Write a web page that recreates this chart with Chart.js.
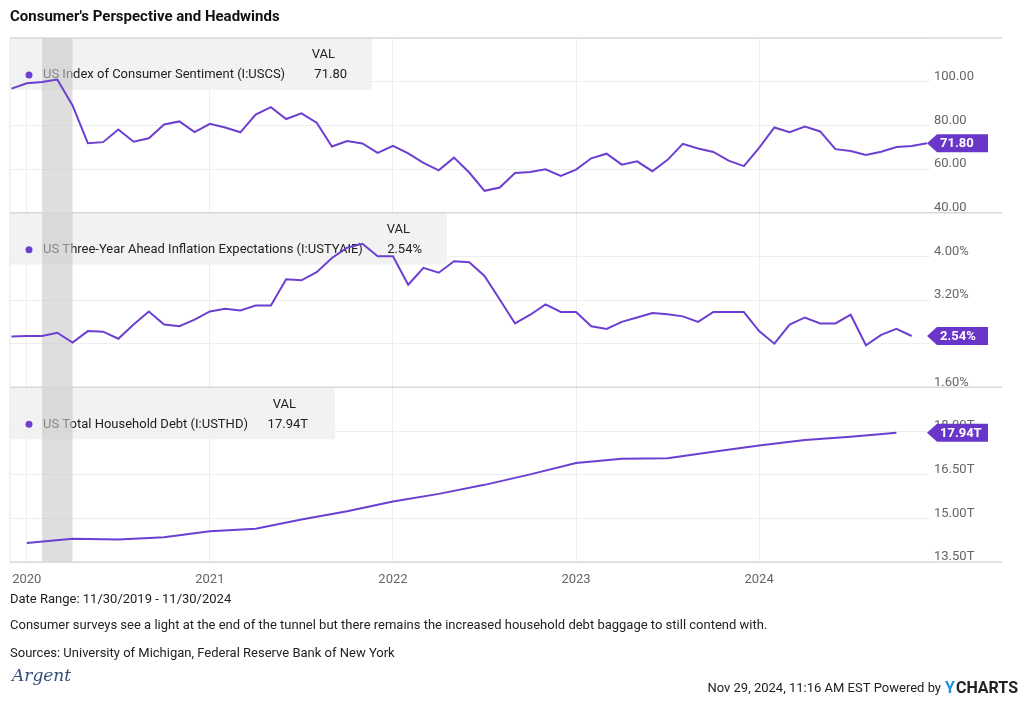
<!DOCTYPE html>
<html><head><meta charset="utf-8">
<script src="https://cdn.jsdelivr.net/npm/chart.js@4/dist/chart.umd.min.js"></script>
<style>html,body{margin:0;padding:0;background:#fff}#w{width:1024px;height:705px}</style>
</head><body><div id="w"><canvas id="c"></canvas></div>
<script>
// Month-end positions: index 0 = Dec 2019 end (~Jan 1 2020), -1 = Nov 2019 end
const yearTicks = [0, 12, 24, 36, 48];
const yearLabels = ['2020', '2021', '2022', '2023', '2024'];
// US Index of Consumer Sentiment, Nov 2019 - Nov 2024 (monthly)
const sentiment = [96.8,99.3,99.8,101.0,89.1,71.8,72.3,78.1,72.5,74.1,80.4,81.8,76.9,80.7,
 79.0,76.8,84.9,88.3,82.9,85.5,81.2,70.3,72.8,71.7,67.4,70.6,
 67.2,62.8,59.4,65.2,58.4,50.0,51.5,58.2,58.6,59.9,56.8,59.7,
 64.9,67.0,62.0,63.5,59.0,64.2,71.5,69.4,67.8,63.8,61.3,69.7,
 79.0,76.9,79.4,77.2,69.1,68.2,66.4,67.9,70.1,70.5,71.8];
// US Three-Year Ahead Inflation Expectations, Nov 2019 - Oct 2024 (monthly, %)
const inflation = [2.53,2.54,2.54,2.60,2.42,2.63,2.62,2.49,2.75,2.99,2.75,2.72,2.84,2.99,
 3.04,3.01,3.10,3.10,3.58,3.56,3.71,3.97,4.16,4.23,4.00,4.00,
 3.48,3.79,3.70,3.91,3.89,3.64,3.21,2.77,2.93,3.12,2.98,2.98,
 2.72,2.67,2.80,2.88,2.96,2.94,2.90,2.80,2.98,2.98,2.98,2.63,
 2.40,2.75,2.88,2.77,2.77,2.93,2.37,2.56,2.67,2.54];
// US Total Household Debt, Q4 2019 - Q3 2024 (quarterly, trillions)
const debt = [14.15,14.30,14.27,14.35,14.56,14.64,14.96,15.24,15.58,15.84,16.15,16.51,
 16.90,17.05,17.06,17.29,17.50,17.69,17.80,17.94];
const recession = [1, 3];

const monthly = (arr) => arr.map((v, i) => ({x: i - 1, y: v}));
const quarterly = (arr) => arr.map((v, i) => ({x: i * 3, y: v}));

const PURPLE = '#6c3fd1';
const FONT = 'Roboto, "Liberation Sans", sans-serif';

const legends = [
  {axis:'y1', name:'US Index of Consumer Sentiment (I:USCS)', val:'71.80', right:372, valRight:347},
  {axis:'y2', name:'US Three-Year Ahead Inflation Expectations (I:USTYAIE)', val:'2.54%', right:447, valRight:422},
  {axis:'y3', name:'US Total Household Debt (I:USTHD)', val:'17.94T', right:335, valRight:308}
];
const tags = [
  {ds:0, text:'71.80'}, {ds:1, text:'2.54%'}, {ds:2, text:'17.94T'}
];

const plugin = {
  id:'deco',
  beforeDatasetsDraw(chart){
    const ctx = chart.ctx, a = chart.chartArea, xs = chart.scales.x;
    ctx.save();
    legends.forEach(l=>{
      const s = chart.scales[l.axis];
      ctx.fillStyle = 'rgba(240,240,240,0.85)';
      ctx.fillRect(a.left, s.top, l.right - a.left, 52);
      ctx.fillStyle = '#222';
      ctx.font = '13px ' + FONT;
      ctx.textBaseline = 'middle';
      ctx.textAlign = 'right';
      ctx.fillText('VAL', l.valRight - 12, s.top + 17);
      ctx.fillText(l.val, l.valRight, s.top + 37);
      ctx.textAlign = 'left';
      ctx.fillText(l.name, 43, s.top + 37);
      ctx.fillStyle = PURPLE;
      ctx.beginPath(); ctx.arc(29, s.top + 37, 3.5, 0, Math.PI*2); ctx.fill();
    });
    const x0 = xs.getPixelForValue(recession[0]), x1 = xs.getPixelForValue(recession[1]);
    ctx.fillStyle = 'rgba(200,200,200,0.6)';
    ctx.fillRect(x0, a.top, x1 - x0, a.bottom - a.top);
    ctx.restore();
  },
  afterDraw(chart){
    const ctx = chart.ctx, a = chart.chartArea;
    ctx.save();
    ctx.strokeStyle = '#d8d8d8'; ctx.lineWidth = 1.5;
    ['y1','y2','y3'].forEach(id=>{
      const s = chart.scales[id];
      ctx.beginPath(); ctx.moveTo(a.left, s.top); ctx.lineTo(1002, s.top); ctx.stroke();
    });
    ctx.beginPath(); ctx.moveTo(a.left, a.bottom); ctx.lineTo(1002, a.bottom); ctx.stroke();
    ctx.strokeStyle = '#e6e6e6'; ctx.lineWidth = 1;
    ctx.beginPath(); ctx.moveTo(a.left, a.top); ctx.lineTo(a.left, a.bottom); ctx.stroke();
    tags.forEach(t=>{
      const meta = chart.getDatasetMeta(t.ds);
      const p = meta.data[meta.data.length-1];
      const y = p.y, xl = a.right + 1;
      ctx.fillStyle = '#6a35c9';
      ctx.beginPath();
      ctx.moveTo(xl - 4, y); ctx.lineTo(xl + 6, y - 9); ctx.lineTo(xl + 57, y - 9);
      ctx.lineTo(xl + 57, y + 9); ctx.lineTo(xl + 6, y + 9); ctx.closePath(); ctx.fill();
      ctx.fillStyle = '#fff'; ctx.font = 'bold 13px ' + FONT;
      ctx.textAlign = 'left'; ctx.textBaseline = 'middle';
      ctx.fillText(t.text, xl + 9, y + 1);
    });
    ctx.fillStyle = '#111'; ctx.textAlign = 'left'; ctx.textBaseline = 'middle';
    ctx.font = 'bold 15px ' + FONT;
    ctx.fillText("Consumer's Perspective and Headwinds", 10, 17);
    ctx.font = '13px ' + FONT; ctx.fillStyle = '#222';
    ctx.fillText('Date Range: 11/30/2019 - 11/30/2024', 10, 600);
    ctx.fillText('Consumer surveys see a light at the end of the tunnel but there remains the increased household debt baggage to still contend with.', 10, 626);
    ctx.fillText('Sources: University of Michigan, Federal Reserve Bank of New York', 10, 654);
    ctx.fillStyle = '#334f7a'; ctx.font = 'italic 17px "DejaVu Serif", serif';
    ctx.fillText('Argent', 12, 677);
    ctx.textAlign = 'right';
    ctx.font = 'bold 16px ' + FONT;
    const ych = 'CHARTS'; const wC = ctx.measureText(ych).width;
    ctx.fillStyle = '#222'; ctx.fillText(ych, 1018, 689);
    ctx.fillStyle = '#1e90e0'; ctx.fillText('Y', 1018 - wC - 1, 689);
    const wY = ctx.measureText('Y').width;
    ctx.font = '13px ' + FONT; ctx.fillStyle = '#222';
    ctx.fillText('Nov 29, 2024, 11:16 AM EST Powered by', 1018 - wC - wY - 5, 689);
    ctx.restore();
  }
};

const yAxis = (min, max, step, hideAbove, fmt) => ({
  type:'linear', position:'right', stack:'panels', stackWeight:1, min, max,
  border:{display:false},
  grid:{color:'#eeeeee', drawTicks:false},
  ticks:{stepSize:step, color:'#666', padding:4, labelOffset:-5, font:{family:FONT, size:13},
    callback:(v)=> v > hideAbove ? '' : fmt(v)},
  afterFit(s){ s.width = 94; }
});

new Chart(document.getElementById('c'), {
  type:'line',
  data:{datasets:[
    {data:monthly(sentiment), yAxisID:'y1'},
    {data:monthly(inflation), yAxisID:'y2'},
    {data:quarterly(debt), yAxisID:'y3'}
  ].map(d=>Object.assign(d,{borderColor:PURPLE, borderWidth:2, pointRadius:0, tension:0, fill:false}))},
  plugins:[plugin],
  options:{
    responsive:true, maintainAspectRatio:false, animation:false,
    layout:{padding:{left:10, top:38, right:0, bottom:0}},
    plugins:{legend:{display:false}, tooltip:{enabled:false}},
    scales:{
      x:{type:'linear', min:-1.1, max:59.2, border:{display:false},
        grid:{color:'#eeeeee', drawTicks:false},
        afterBuildTicks(s){ s.ticks = yearTicks.map(v=>({value:v})); },
        ticks:{color:'#666', padding:10, maxRotation:0, font:{family:FONT, size:13},
          callback:(v)=> yearLabels[yearTicks.indexOf(v)] || ''},
        afterFit(s){ s.height = 143; }},
      y1: yAxis(40, 120, 20, 110, v=>v.toFixed(2)),
      y2: yAxis(1.6, 4.8, 0.8, 4.5, v=>v.toFixed(2)+'%'),
      y3: yAxis(13.5, 19.5, 1.5, 19, v=>v.toFixed(2)+'T')
    }
  }
});
</script></body></html>
